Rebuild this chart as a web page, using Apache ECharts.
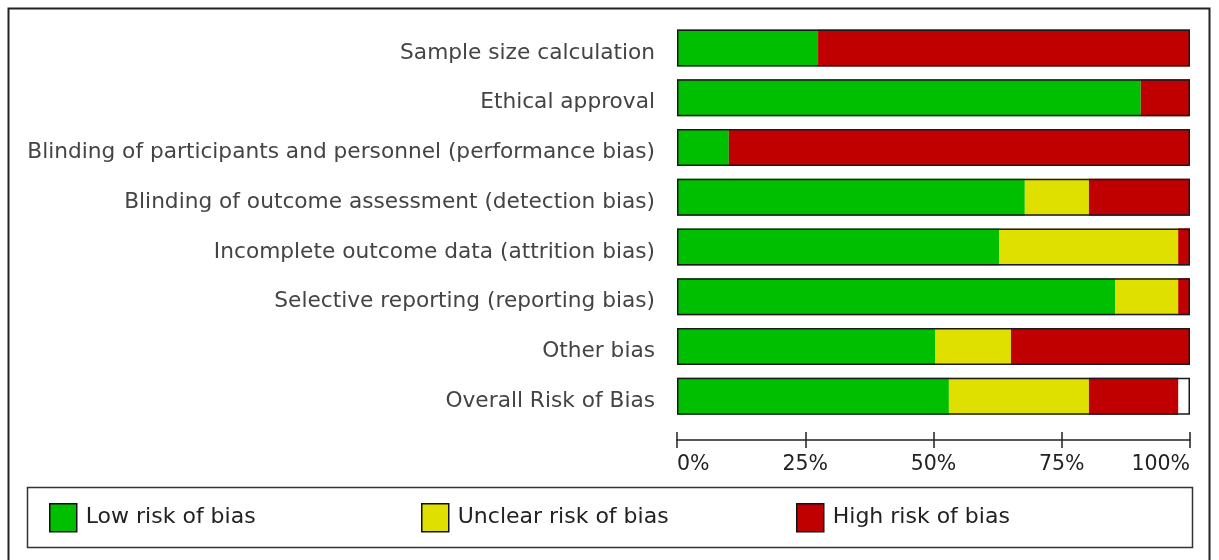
<!DOCTYPE html>
<html>
<head>
<meta charset="utf-8">
<script src="https://cdn.jsdelivr.net/npm/echarts@6/dist/echarts.min.js"></script>
<style>
    html, body { margin: 0; padding: 0; background: #fff; }
    #chart { width: 1219px; height: 560px; }
</style>
</head>
<body>
<div id="chart"></div>
<script>
    // risk of bias domains, top to bottom
    var categories = [
        'Sample size calculation',
        'Ethical approval',
        'Blinding of participants and personnel (performance bias)',
        'Blinding of outcome assessment (detection bias)',
        'Incomplete outcome data (attrition bias)',
        'Selective reporting (reporting bias)',
        'Other bias',
        'Overall Risk of Bias'
    ];
    // percent of studies per judgement
    var lowRisk     = [27.5, 90.4, 10.1, 67.8, 62.8, 85.4, 50.3, 53.0];
    var unclearRisk = [0,    0,    0,    12.5, 34.9, 12.3, 14.8, 27.3];
    var highRisk    = [72.5, 9.6,  89.9, 19.7, 2.3,  2.3,  34.9, 17.4];
    var tickLabels  = ['0%', '25%', '50%', '75%', '100%'];

    var font = 'DejaVu Sans';
    var frameData = categories.map(function () { return 100; });

    var myChart = echarts.init(document.getElementById('chart'));

    function oneLegend(name, left) {
        return {
            data: [name],
            left: left,
            top: 503,
            padding: 0,
            icon: 'rect',
            itemWidth: 27,
            itemHeight: 28,
            selectedMode: false,
            itemStyle: { borderColor: '#111', borderWidth: 1.5 },
            textStyle: { fontFamily: font, fontSize: 22, color: '#222', padding: [2, 0, 0, 4] }
        };
    }

    var option = {
        animation: false,
        backgroundColor: '#fff',
        grid: { left: 677, right: 29, top: 23, bottom: 139 },
        legend: [
            oneLegend('Low risk of bias', 49),
            oneLegend('Unclear risk of bias', 421),
            oneLegend('High risk of bias', 796)
        ],
        xAxis: [
            {
                type: 'value',
                min: 0,
                max: 100,
                interval: 25,
                position: 'bottom',
                offset: 19,
                axisLine: { show: true, lineStyle: { color: '#222', width: 1.5 } },
                axisTick: { show: true, length: 8, lineStyle: { color: '#222', width: 1.5 } },
                splitLine: { show: false },
                axisLabel: {
                    fontFamily: font,
                    fontSize: 20.5,
                    color: '#222',
                    margin: 14,
                    alignMinLabel: 'left',
                    alignMaxLabel: 'right',
                    formatter: function (v) { return tickLabels[v / 25]; }
                }
            },
            {
                type: 'value',
                min: 0,
                max: 100,
                interval: 25,
                position: 'bottom',
                offset: 19,
                axisLine: { show: false },
                axisTick: { show: true, inside: true, length: 8, lineStyle: { color: '#222', width: 1.5 } },
                splitLine: { show: false },
                axisLabel: { show: false }
            }
        ],
        yAxis: {
            type: 'category',
            inverse: true,
            data: categories,
            axisLine: { show: false },
            axisTick: { show: false },
            axisLabel: {
                fontFamily: font,
                fontSize: 21.7,
                color: '#444',
                margin: 22,
                verticalAlign: 'top',
                lineHeight: 10
            }
        },
        graphic: [
            {
                type: 'rect',
                shape: { x: 8.5, y: 8.5, width: 1201, height: 580 },
                style: { fill: null, stroke: '#222', lineWidth: 2 },
                silent: true
            },
            {
                type: 'rect',
                shape: { x: 27.5, y: 487.5, width: 1165, height: 60 },
                style: { fill: null, stroke: '#333', lineWidth: 1.5 },
                silent: true
            }
        ],
        series: [
            {
                name: 'Low risk of bias',
                type: 'bar',
                stack: 'rob',
                barWidth: 37,
                itemStyle: { color: '#00bf00' },
                data: lowRisk
            },
            {
                name: 'Unclear risk of bias',
                type: 'bar',
                stack: 'rob',
                barWidth: 37,
                itemStyle: { color: '#e0e000' },
                data: unclearRisk
            },
            {
                name: 'High risk of bias',
                type: 'bar',
                stack: 'rob',
                barWidth: 37,
                itemStyle: { color: '#c00000' },
                data: highRisk
            },
            {
                // outline around each whole bar
                name: 'frame',
                type: 'bar',
                barWidth: 37,
                barGap: '-100%',
                silent: true,
                z: 3,
                itemStyle: { color: 'rgba(0,0,0,0)', borderColor: '#1a1a1a', borderWidth: 1.5 },
                data: frameData
            }
        ]
    };

    myChart.setOption(option);
    window.addEventListener('resize', myChart.resize);
</script>
</body>
</html>
